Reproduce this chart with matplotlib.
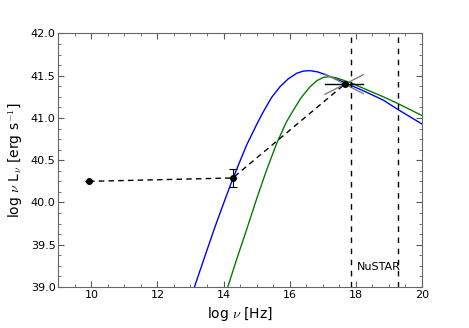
import numpy as np
import matplotlib.pyplot as plt
from matplotlib.ticker import MultipleLocator

plt.rcParams['mathtext.fontset'] = 'cm'

# SED points (log nu, log nuLnu)
obs_x = [9.93, 14.28, 17.67]
obs_y = [40.25, 40.29, 41.40]
obs_err = [0.0, 0.11, 0.0]

# model curves
blue_x = [12.95, 13.12, 13.45, 13.75, 14.05, 14.30, 14.70, 15.00, 15.20, 15.45,
          15.71, 15.95, 16.22, 16.42, 16.62, 16.85, 17.10, 17.35, 17.60, 17.83,
          18.30, 18.84, 19.28, 20.00]
blue_y = [38.80, 39.00, 39.38, 39.72, 40.04, 40.30, 40.68, 40.92, 41.07, 41.24,
          41.37, 41.46, 41.53, 41.555, 41.56, 41.545, 41.51, 41.47, 41.43, 41.39,
          41.31, 41.21, 41.10, 40.93]
green_x = [14.08, 14.13, 14.40, 14.70, 15.00, 15.30, 15.61, 15.90, 16.11, 16.35,
           16.62, 16.82, 17.02, 17.22, 17.45, 17.83, 18.30, 18.84, 19.28, 20.00]
green_y = [38.90, 39.00, 39.33, 39.68, 40.04, 40.38, 40.70, 40.95, 41.09, 41.24,
           41.37, 41.44, 41.48, 41.49, 41.47, 41.42, 41.34, 41.25, 41.17, 41.03]

# X-ray bow tie
bt_x = [17.07, 18.23]
bt_slopes = [0.2, -0.2]

# NuSTAR band 3-79 keV
nustar = [17.86, 19.28]

fig = plt.figure(figsize=(4.69, 3.28), dpi=100)
ax = fig.add_axes([0.1243, 0.125, 0.775, 0.773])

ax.plot(blue_x, blue_y, color='b', lw=1)
ax.plot(green_x, green_y, color='g', lw=1)

ax.plot(obs_x, obs_y, 'k--', lw=1, dashes=(4, 3))
ax.errorbar(obs_x, obs_y, yerr=obs_err, fmt='o', color='k', ms=4,
            elinewidth=0.8, capsize=3, capthick=0.8)

xc, yc = obs_x[2], obs_y[2]
ax.plot(bt_x, [yc, yc], color='k', lw=1)
for s in bt_slopes:
    ax.plot(bt_x, [yc + s * (bt_x[0] - xc), yc + s * (bt_x[1] - xc)],
            color='0.5', lw=1)

for v in nustar:
    ax.axvline(v, color='k', ls='--', lw=1, dashes=(4, 4))
ax.text(18.03, 39.24, 'NuSTAR', fontsize=8, va='center')

ax.set_xlim(9, 20)
ax.set_ylim(39, 42)
ax.xaxis.set_major_locator(MultipleLocator(2))
ax.xaxis.set_minor_locator(MultipleLocator(0.5))
ax.yaxis.set_major_locator(MultipleLocator(0.5))
ax.yaxis.set_minor_locator(MultipleLocator(0.125))
ax.yaxis.set_major_formatter(plt.FormatStrFormatter('%.1f'))
ax.tick_params(which='both', direction='in', top=True, right=True,
               color='0.35', labelsize=8, pad=2)
ax.tick_params(which='major', length=4)
ax.tick_params(which='minor', length=2)
for sp in ax.spines.values():
    sp.set_color('0.4')

ax.set_xlabel(r'log $\nu$ [Hz]', fontsize=10)
ax.set_ylabel(r'log $\nu$ L$_\nu$ [erg s$^{-1}$]', fontsize=10)

fig.savefig('out.png', dpi=100)
